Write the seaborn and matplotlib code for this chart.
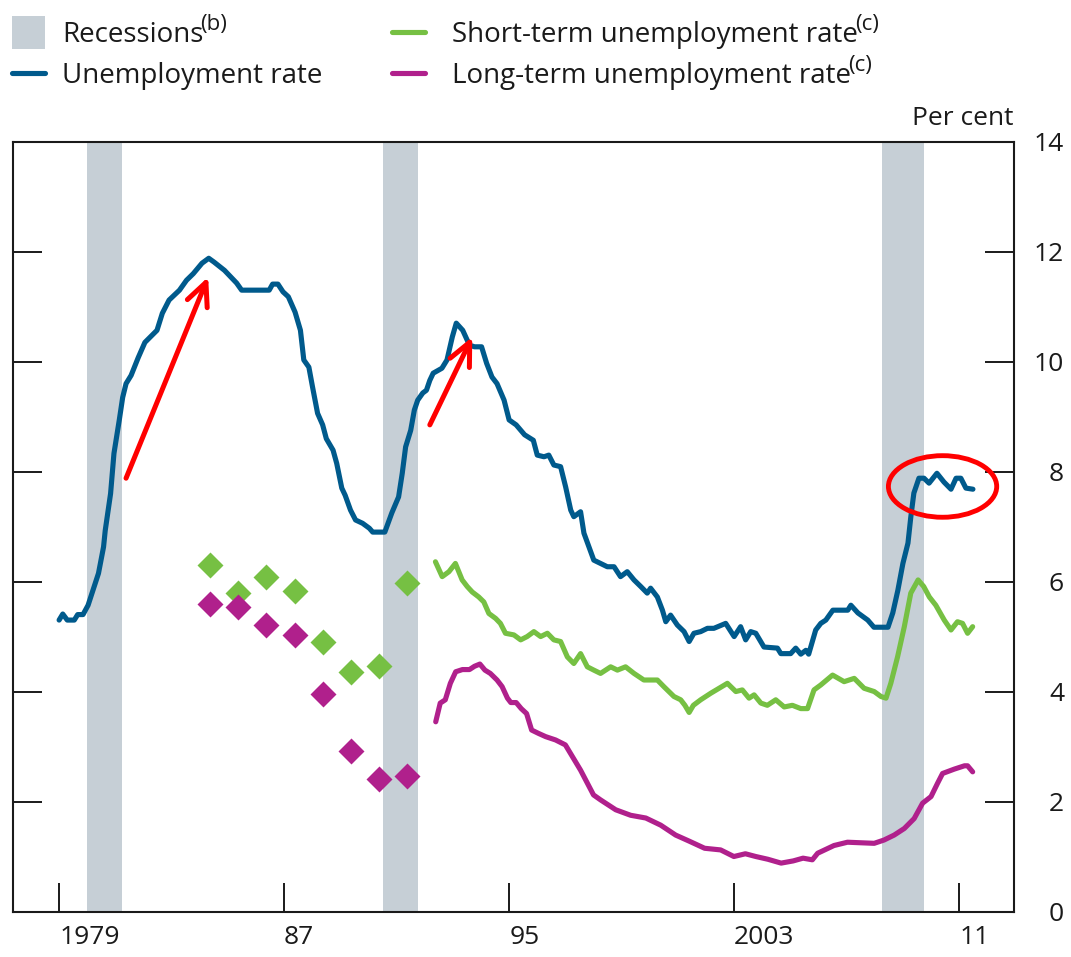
import pandas as pd
import matplotlib
matplotlib.use("Agg")
import matplotlib.pyplot as plt
import seaborn as sns
from matplotlib.patches import Rectangle, Ellipse
from matplotlib.lines import Line2D

# --- data (decimal years, per cent) ---
unemp_year = [1979.00, 1979.13, 1979.29, 1979.54, 1979.66, 1979.85, 1980.03, 1980.21, 1980.40, 1980.58,
              1980.64, 1980.83, 1980.95, 1981.14, 1981.26, 1981.38, 1981.56, 1981.81, 1982.05, 1982.48,
              1982.67, 1982.91, 1983.28, 1983.53, 1983.77, 1984.08, 1984.32, 1984.51, 1984.88, 1985.31,
              1985.49, 1986.47, 1986.59, 1986.78, 1986.96, 1987.15, 1987.39, 1987.58, 1987.70, 1987.88,
              1988.01, 1988.19, 1988.37, 1988.50, 1988.74, 1988.87, 1989.05, 1989.17, 1989.36, 1989.54,
              1989.79, 1990.03, 1990.15, 1990.58, 1990.83, 1991.07, 1991.20, 1991.32, 1991.50, 1991.63,
              1991.75, 1991.93, 1992.06, 1992.18, 1992.30, 1992.61, 1992.79, 1992.98, 1993.12, 1993.35,
              1993.59, 1993.77, 1994.02, 1994.20, 1994.39, 1994.57, 1994.82, 1995.00, 1995.25, 1995.55,
              1995.86, 1996.00, 1996.24, 1996.41, 1996.59, 1996.83, 1997.01, 1997.19, 1997.30, 1997.54,
              1997.66, 1997.84, 1998.01, 1998.25, 1998.49, 1998.73, 1998.96, 1999.20, 1999.44, 1999.68,
              1999.91, 2000.03, 2000.27, 2000.45, 2000.57, 2000.74, 2000.98, 2001.22, 2001.40, 2001.57,
              2001.81, 2002.05, 2002.28, 2002.70, 2003.00, 2003.23, 2003.41, 2003.59, 2003.77, 2004.06,
              2004.54, 2004.66, 2005.01, 2005.19, 2005.37, 2005.55, 2005.65, 2005.90, 2006.08, 2006.26,
              2006.51, 2007.04, 2007.15, 2007.40, 2007.75, 2007.97, 2008.47, 2008.64, 2008.82, 2009.00,
              2009.18, 2009.28, 2009.39, 2009.57, 2009.75, 2009.93, 2010.21, 2010.46, 2010.71, 2010.89,
              2011.06, 2011.24, 2011.49]
unemp_rate = [5.30, 5.41, 5.30, 5.30, 5.40, 5.40, 5.57, 5.85, 6.15, 6.63,
              6.93, 7.60, 8.33, 8.94, 9.35, 9.60, 9.75, 10.07, 10.35, 10.57,
              10.88, 11.12, 11.30, 11.48, 11.60, 11.79, 11.88, 11.81, 11.66, 11.43,
              11.30, 11.30, 11.41, 11.41, 11.27, 11.18, 10.90, 10.57, 10.03, 9.90,
              9.54, 9.06, 8.85, 8.60, 8.39, 8.15, 7.70, 7.57, 7.30, 7.12,
              7.06, 6.97, 6.90, 6.90, 7.25, 7.54, 7.97, 8.45, 8.75, 9.12,
              9.30, 9.43, 9.48, 9.66, 9.79, 9.88, 10.03, 10.45, 10.70, 10.57,
              10.30, 10.27, 10.27, 9.97, 9.72, 9.60, 9.30, 8.94, 8.85, 8.67,
              8.57, 8.30, 8.27, 8.30, 8.12, 8.09, 7.72, 7.30, 7.18, 7.27,
              6.88, 6.63, 6.39, 6.33, 6.27, 6.27, 6.09, 6.18, 6.03, 5.91,
              5.79, 5.88, 5.72, 5.48, 5.27, 5.39, 5.21, 5.09, 4.91, 5.06,
              5.09, 5.15, 5.15, 5.24, 5.00, 5.18, 4.94, 5.09, 5.06, 4.81,
              4.79, 4.69, 4.69, 4.79, 4.68, 4.75, 4.68, 5.12, 5.24, 5.30,
              5.48, 5.48, 5.57, 5.43, 5.30, 5.17, 5.17, 5.43, 5.84, 6.33,
              6.70, 7.17, 7.61, 7.88, 7.88, 7.79, 7.97, 7.81, 7.68, 7.88,
              7.88, 7.70, 7.68]

short_year = [1992.38, 1992.62, 1992.86, 1993.09, 1993.33, 1993.51, 1993.69, 1993.92, 1994.10, 1994.28,
              1994.52, 1994.69, 1994.87, 1995.17, 1995.41, 1995.64, 1995.88, 1996.12, 1996.36, 1996.59,
              1996.83, 1997.07, 1997.30, 1997.54, 1997.78, 1998.01, 1998.25, 1998.61, 1998.85, 1999.14,
              1999.44, 1999.79, 2000.27, 2000.50, 2000.86, 2001.10, 2001.25, 2001.40, 2001.55, 2001.81,
              2002.17, 2002.76, 2003.06, 2003.29, 2003.53, 2003.71, 2003.95, 2004.18, 2004.48, 2004.78,
              2005.07, 2005.37, 2005.61, 2005.84, 2006.08, 2006.50, 2006.91, 2007.27, 2007.62, 2007.98,
              2008.22, 2008.40, 2008.57, 2008.81, 2009.05, 2009.28, 2009.54, 2009.74, 2009.94, 2010.17,
              2010.47, 2010.71, 2010.94, 2011.12, 2011.30, 2011.48]
short_rate = [6.36, 6.09, 6.18, 6.33, 6.03, 5.91, 5.81, 5.72, 5.63, 5.42,
              5.33, 5.24, 5.06, 5.03, 4.94, 5.00, 5.09, 5.00, 5.06, 4.94,
              4.91, 4.63, 4.51, 4.69, 4.45, 4.39, 4.33, 4.45, 4.39, 4.45,
              4.33, 4.21, 4.21, 4.09, 3.91, 3.85, 3.75, 3.62, 3.75, 3.85,
              3.97, 4.15, 4.00, 4.03, 3.88, 3.94, 3.79, 3.75, 3.85, 3.72,
              3.75, 3.69, 3.69, 4.03, 4.12, 4.30, 4.18, 4.24, 4.06, 4.00,
              3.91, 3.88, 4.15, 4.63, 5.18, 5.79, 6.03, 5.91, 5.72, 5.57,
              5.30, 5.12, 5.27, 5.24, 5.06, 5.18]

long_year = [1992.39, 1992.55, 1992.73, 1992.91, 1993.10, 1993.34, 1993.59, 1993.77, 1993.96, 1994.14,
             1994.33, 1994.57, 1994.75, 1994.94, 1995.06, 1995.25, 1995.43, 1995.62, 1995.80, 1996.04,
             1996.30, 1996.65, 1997.00, 1997.54, 1998.00, 1998.25, 1998.79, 1999.32, 1999.86, 2000.39,
             2000.92, 2001.40, 2001.95, 2002.52, 2002.99, 2003.40, 2003.77, 2004.20, 2004.67, 2005.10,
             2005.45, 2005.78, 2005.97, 2006.55, 2007.03, 2007.50, 2007.98, 2008.33, 2008.69, 2009.05,
             2009.40, 2009.70, 2010.00, 2010.23, 2010.41, 2010.83, 2011.19, 2011.30, 2011.48]
long_rate = [3.45, 3.79, 3.85, 4.15, 4.36, 4.40, 4.40, 4.46, 4.50, 4.39,
             4.33, 4.21, 4.09, 3.88, 3.80, 3.80, 3.69, 3.60, 3.30, 3.24,
             3.18, 3.12, 3.03, 2.57, 2.12, 2.03, 1.85, 1.75, 1.70, 1.57,
             1.39, 1.28, 1.15, 1.12, 1.00, 1.05, 1.00, 0.95, 0.88, 0.92,
             0.97, 0.94, 1.06, 1.20, 1.26, 1.25, 1.24, 1.30, 1.39, 1.51,
             1.69, 1.97, 2.09, 2.33, 2.51, 2.59, 2.65, 2.65, 2.54]

# annual (spring) survey points before the monthly series starts
annual_year = [1984.37, 1985.37, 1986.37, 1987.37, 1988.37, 1989.37, 1990.37, 1991.37]
annual_short = [6.30, 5.80, 6.09, 5.83, 4.91, 4.36, 4.47, 5.98]
annual_long = [5.59, 5.54, 5.21, 5.03, 3.95, 2.92, 2.41, 2.47]

rec_start = [1980.0, 1990.5, 2008.25]
rec_end = [1981.25, 1991.75, 2009.75]

xtick_pos = [1979, 1987, 1995, 2003, 2011]
xtick_lab = ["1979", "87", "95", "2003", "11"]
ytick_pos = [0, 2, 4, 6, 8, 10, 12, 14]

BLUE = "#005a8c"
GREEN = "#76c043"
MAGENTA = "#b0208c"
GREY = "#c6cfd6"
INK = "#1a1a1a"

sns.set_style("white")
plt.rcParams["font.family"] = ["Open Sans", "DejaVu Sans"]
FS = 19
LEG_FS = 20
LW = 3.7

unemp = pd.DataFrame({"year": unemp_year, "rate": unemp_rate})
short = pd.DataFrame({"year": short_year, "rate": short_rate})
long_ = pd.DataFrame({"year": long_year, "rate": long_rate})
annual = pd.DataFrame({"year": annual_year, "short": annual_short, "long": annual_long})

W, H = 1071, 957
fig = plt.figure(figsize=(W / 100, H / 100), dpi=100)
ax = fig.add_axes([12.7 / W, (H - 911.5) / H, (1014 - 12.7) / W, (911.5 - 141.7) / H])

for s, e in zip(rec_start, rec_end):
    ax.axvspan(s, e, color=GREY, lw=0, zorder=0)

sns.lineplot(data=unemp, x="year", y="rate", color=BLUE, lw=LW, estimator=None, ax=ax, zorder=3)
sns.lineplot(data=short, x="year", y="rate", color=GREEN, lw=LW, estimator=None, ax=ax, zorder=3)
sns.lineplot(data=long_, x="year", y="rate", color=MAGENTA, lw=LW, estimator=None, ax=ax, zorder=3)
sns.scatterplot(data=annual, x="year", y="short", color=GREEN, marker="D", s=175, lw=0, ax=ax, zorder=3)
sns.scatterplot(data=annual, x="year", y="long", color=MAGENTA, marker="D", s=175, lw=0, ax=ax, zorder=3)

ax.set_xlim(1977.35, 2012.95)
ax.set_ylim(0, 14)
ax.set_xlabel("")
ax.set_ylabel("")

ax.set_xticks(xtick_pos, xtick_lab)
for lab in ax.get_xticklabels():
    lab.set_ha("left")
ax.set_yticks(ytick_pos, [str(v) for v in ytick_pos])
ax.tick_params(axis="x", direction="in", length=21, width=1.4, color=INK,
               labelsize=FS, labelcolor=INK, pad=10, bottom=True, top=False)
ax.tick_params(axis="y", direction="in", length=21, width=1.4, color=INK,
               left=True, right=True, labelleft=False, labelright=True,
               labelsize=FS, labelcolor=INK, pad=36)
for lab in ax.get_yticklabels():
    lab.set_ha("right")

for sp in ax.spines.values():
    sp.set_visible(True)
    sp.set_color(INK)
    sp.set_linewidth(1.5)
    sp.set_zorder(5)

# red annotations
arrow = dict(arrowstyle="->,head_length=0.75,head_width=0.35", color="red", lw=3.6,
             mutation_scale=22, shrinkA=0, shrinkB=0)
ax.annotate("", xy=(1984.3, 11.54), xytext=(1981.38, 7.88), arrowprops=arrow, zorder=6)
ax.annotate("", xy=(1993.69, 10.45), xytext=(1992.18, 8.85), arrowprops=arrow, zorder=6)
ax.add_patch(Ellipse((2010.41, 7.73), width=3.85, height=1.12, fill=False, ec="red", lw=3.5, zorder=6))


# legend, drawn by hand in figure pixels
def fx(px):
    return px / W


def fy(py):
    return 1 - py / H


renderer = fig.canvas.get_renderer()


def label(px, py, text, note=None):
    t = fig.text(fx(px), fy(py), text, fontsize=LEG_FS, color=INK, va="baseline")
    if note:
        bb = t.get_window_extent(renderer)
        fig.text((bb.x1 - 3) / W, fy(py - 12), note, fontsize=LEG_FS * 0.8, color=INK, va="baseline")


fig.add_artist(Rectangle((fx(12), fy(49)), 33 / W, 33 / H, color=GREY, lw=0))
fig.add_artist(Line2D([fx(12), fx(45)], [fy(73), fy(73)], color=BLUE, lw=LW))
fig.add_artist(Line2D([fx(392), fx(425)], [fy(32), fy(32)], color=GREEN, lw=LW))
fig.add_artist(Line2D([fx(392), fx(425)], [fy(73), fy(73)], color=MAGENTA, lw=LW))
label(62, 42, "Recessions", "(b)")
label(62, 83, "Unemployment rate")
label(452, 42, "Short-term unemployment rate", "(c)")
label(452, 83, "Long-term unemployment rate", "(c)")
fig.text(fx(1013), fy(125), "Per cent", fontsize=FS, color=INK, ha="right", va="baseline")

fig.savefig("out.png", dpi=100)
